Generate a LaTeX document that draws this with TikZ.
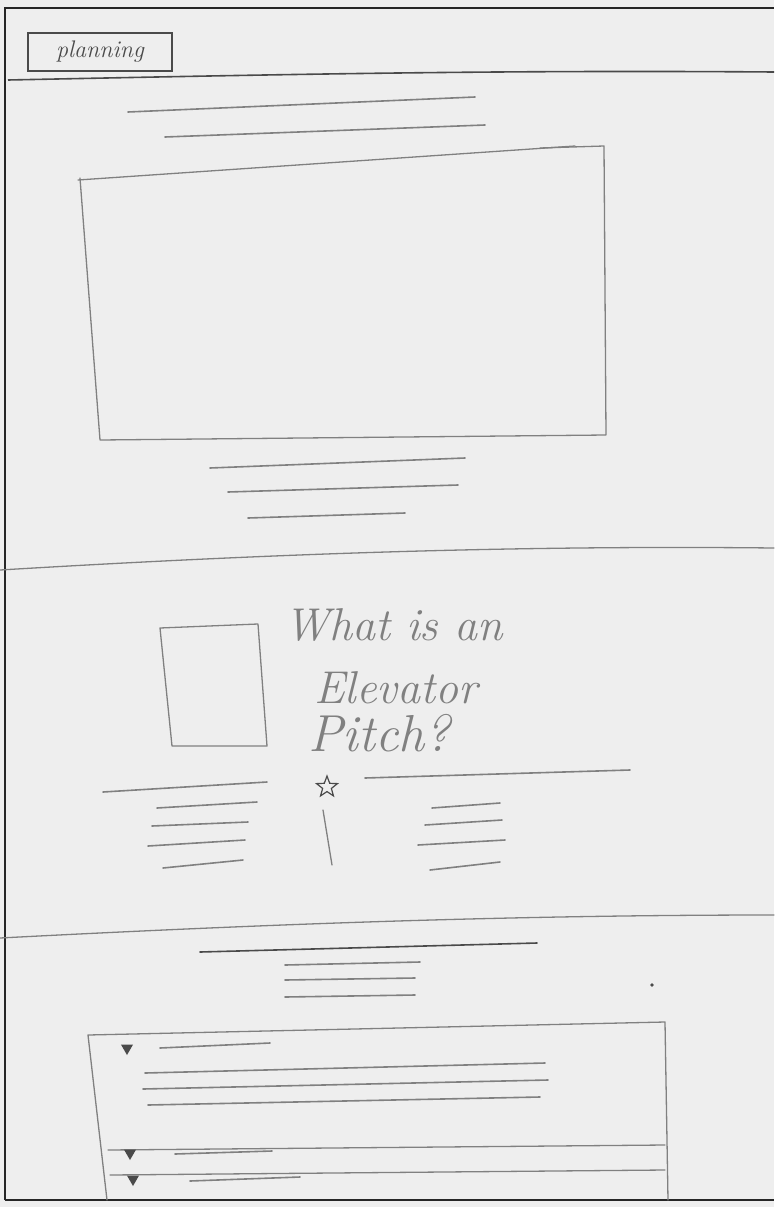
\documentclass[tikz,border=0pt]{standalone}
\usetikzlibrary{shapes.geometric}
\definecolor{paper}{HTML}{EEEEEE}
\definecolor{lead}{HTML}{808080}
\definecolor{darklead}{HTML}{4A4A4A}
\tikzset{
  pencil/.style={draw=lead,line width=1.3pt,line cap=round,line join=round},
  softline/.style={draw=lead,line width=1.6pt,line cap=round},
  frameline/.style={draw=black!85,line width=1.6pt},
  handtext/.style={text=lead,font=\fontsize{46}{50}\selectfont\itshape,inner sep=0pt},
  bullet/.style={fill=darklead,regular polygon,regular polygon sides=3,shape border rotate=180,minimum size=14pt,inner sep=0pt},
  starmark/.style={draw=darklead,line width=1.2pt,star,star points=5,star point ratio=2.4,minimum size=22pt,inner sep=0pt},
}
\begin{document}
\begin{tikzpicture}[x=1pt,y=-1pt]
\useasboundingbox (0,0) rectangle (774,1207);
\fill[paper] (0,0) rectangle (774,1207);
% outer frame
\draw[frameline] (5,1200) -- (5,8) -- (774,8);
\draw[frameline] (5,1200) -- (774,1200);
% header
\node[draw=darklead,line width=1.4pt,minimum width=144pt,minimum height=38pt,inner sep=2pt,text=darklead,font=\fontsize{24}{26}\selectfont\itshape] (logo) at (100,52) {planning};
\draw[darklead,line width=1.6pt] (8,80) .. controls (300,74) and (500,70) .. (774,72);
% hero section
\draw[softline] (128,112) -- (475,97);
\draw[softline] (165,137) -- (485,125);
\draw[pencil] (78,180) -- (575,146);
\draw[pencil] (540,148) -- (604,146) -- (606,435) -- (100,440) -- (80,178);
\draw[softline] (210,468) -- (465,458);
\draw[softline] (228,492) -- (458,485);
\draw[softline] (248,518) -- (405,513);
\draw[pencil] (0,570) .. controls (250,555) and (500,545) .. (774,548);
% pitch section
\draw[pencil] (160,628) -- (258,624) -- (267,746) -- (172,746) -- cycle;
\node[handtext,anchor=west] (what) at (284,625) {What is an};
\node[handtext,anchor=west] (elevator) at (314,688) {Elevator};
\node[handtext,anchor=west,font=\fontsize{52}{56}\selectfont\itshape] (pitch) at (308,733) {Pitch?};
\node[starmark] (star) at (327,787) {};
\draw[pencil] (323,810) -- (332,865);
\draw[softline] (103,792) -- (267,782);
\draw[softline] (157,808) -- (257,802);
\draw[softline] (152,826) -- (248,822);
\draw[softline] (148,846) -- (245,840);
\draw[softline] (163,868) -- (243,860);
\draw[softline] (365,778) -- (630,770);
\draw[softline] (432,808) -- (500,803);
\draw[softline] (425,825) -- (502,820);
\draw[softline] (418,845) -- (505,840);
\draw[softline] (430,870) -- (500,862);
\draw[pencil] (0,938) .. controls (250,925) and (500,915) .. (774,915);
% faq section
\draw[darklead,line width=1.6pt,line cap=round] (200,952) -- (537,943);
\draw[softline] (285,965) -- (420,962);
\draw[softline] (285,980) -- (415,978);
\draw[softline] (285,997) -- (415,995);
\fill[darklead] (652,985) circle (1.8pt);
\draw[pencil] (107,1200) -- (88,1035) -- (665,1022) -- (668,1200);
\draw[pencil] (108,1150) -- (665,1145);
\draw[pencil] (110,1175) -- (665,1170);
\node[bullet] (q1) at (127,1048) {};
\node[bullet] (q2) at (130,1153) {};
\node[bullet] (q3) at (133,1179) {};
\draw[softline] (160,1048) -- (270,1043);
\draw[softline] (145,1073) -- (545,1063);
\draw[softline] (143,1089) -- (548,1080);
\draw[softline] (148,1105) -- (540,1097);
\draw[softline] (175,1154) -- (272,1151);
\draw[softline] (190,1181) -- (300,1177);
\end{tikzpicture}
\end{document}
